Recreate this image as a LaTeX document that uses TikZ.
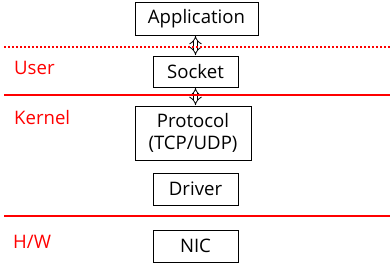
\documentclass[tikz,border=0pt]{standalone}
\usepackage{fontspec}
\setmainfont{Open Sans}
\usetikzlibrary{arrows.meta, positioning}

\begin{document}
\begin{tikzpicture}[x=1pt, y=-1pt,
  font=\fontsize{18.6}{22}\selectfont,
  camada/.style={rectangle,draw,line width=0.9pt,inner sep=0pt,
                 minimum width=85pt,minimum height=32pt,align=center},
  nivel/.style={anchor=west,text=red,inner sep=0pt},
  divisa/.style={red,line width=1.8pt},
  via/.style={double,double distance=3.6pt,line width=0.8pt,
              {Implies[length=3pt]}-{Implies[length=3pt]},shorten <=0.5pt,shorten >=0.5pt}]

  \useasboundingbox (0,0) rectangle (390,268);

  % --- pilha ---
  \node[camada,minimum width=123pt,minimum height=33pt] (app) at (196.5,18.5) {Application};
  \node[camada,minimum height=31pt] (sock) at (195.5,71.5) {Socket};
  \node[camada,minimum width=116pt,minimum height=54pt] (prot) at (193,133) {Protocol\\(TCP/UDP)};
  \node[camada] (drv) at (195.5,189) {Driver};
  \node[camada] (nic) at (195.5,246) {NIC};

  \draw[via] (app.south -| sock.north) -- (sock.north);
  \draw[via] (sock.south) -- (sock.south |- prot.north);

  % --- fronteiras ---
  \draw[divisa,dash pattern=on 1.8pt off 2.2pt] (4,47) -- (390,47);
  \draw[divisa] (4,95) -- (390,95);
  \draw[divisa] (4,216) -- (390,216);

  \node[nivel] (user) at (14,68) {User};
  \node[nivel] (kern) at (14,118) {Kernel};
  \node[nivel] (hw) at (13,242) {H/W};
\end{tikzpicture}
\end{document}
